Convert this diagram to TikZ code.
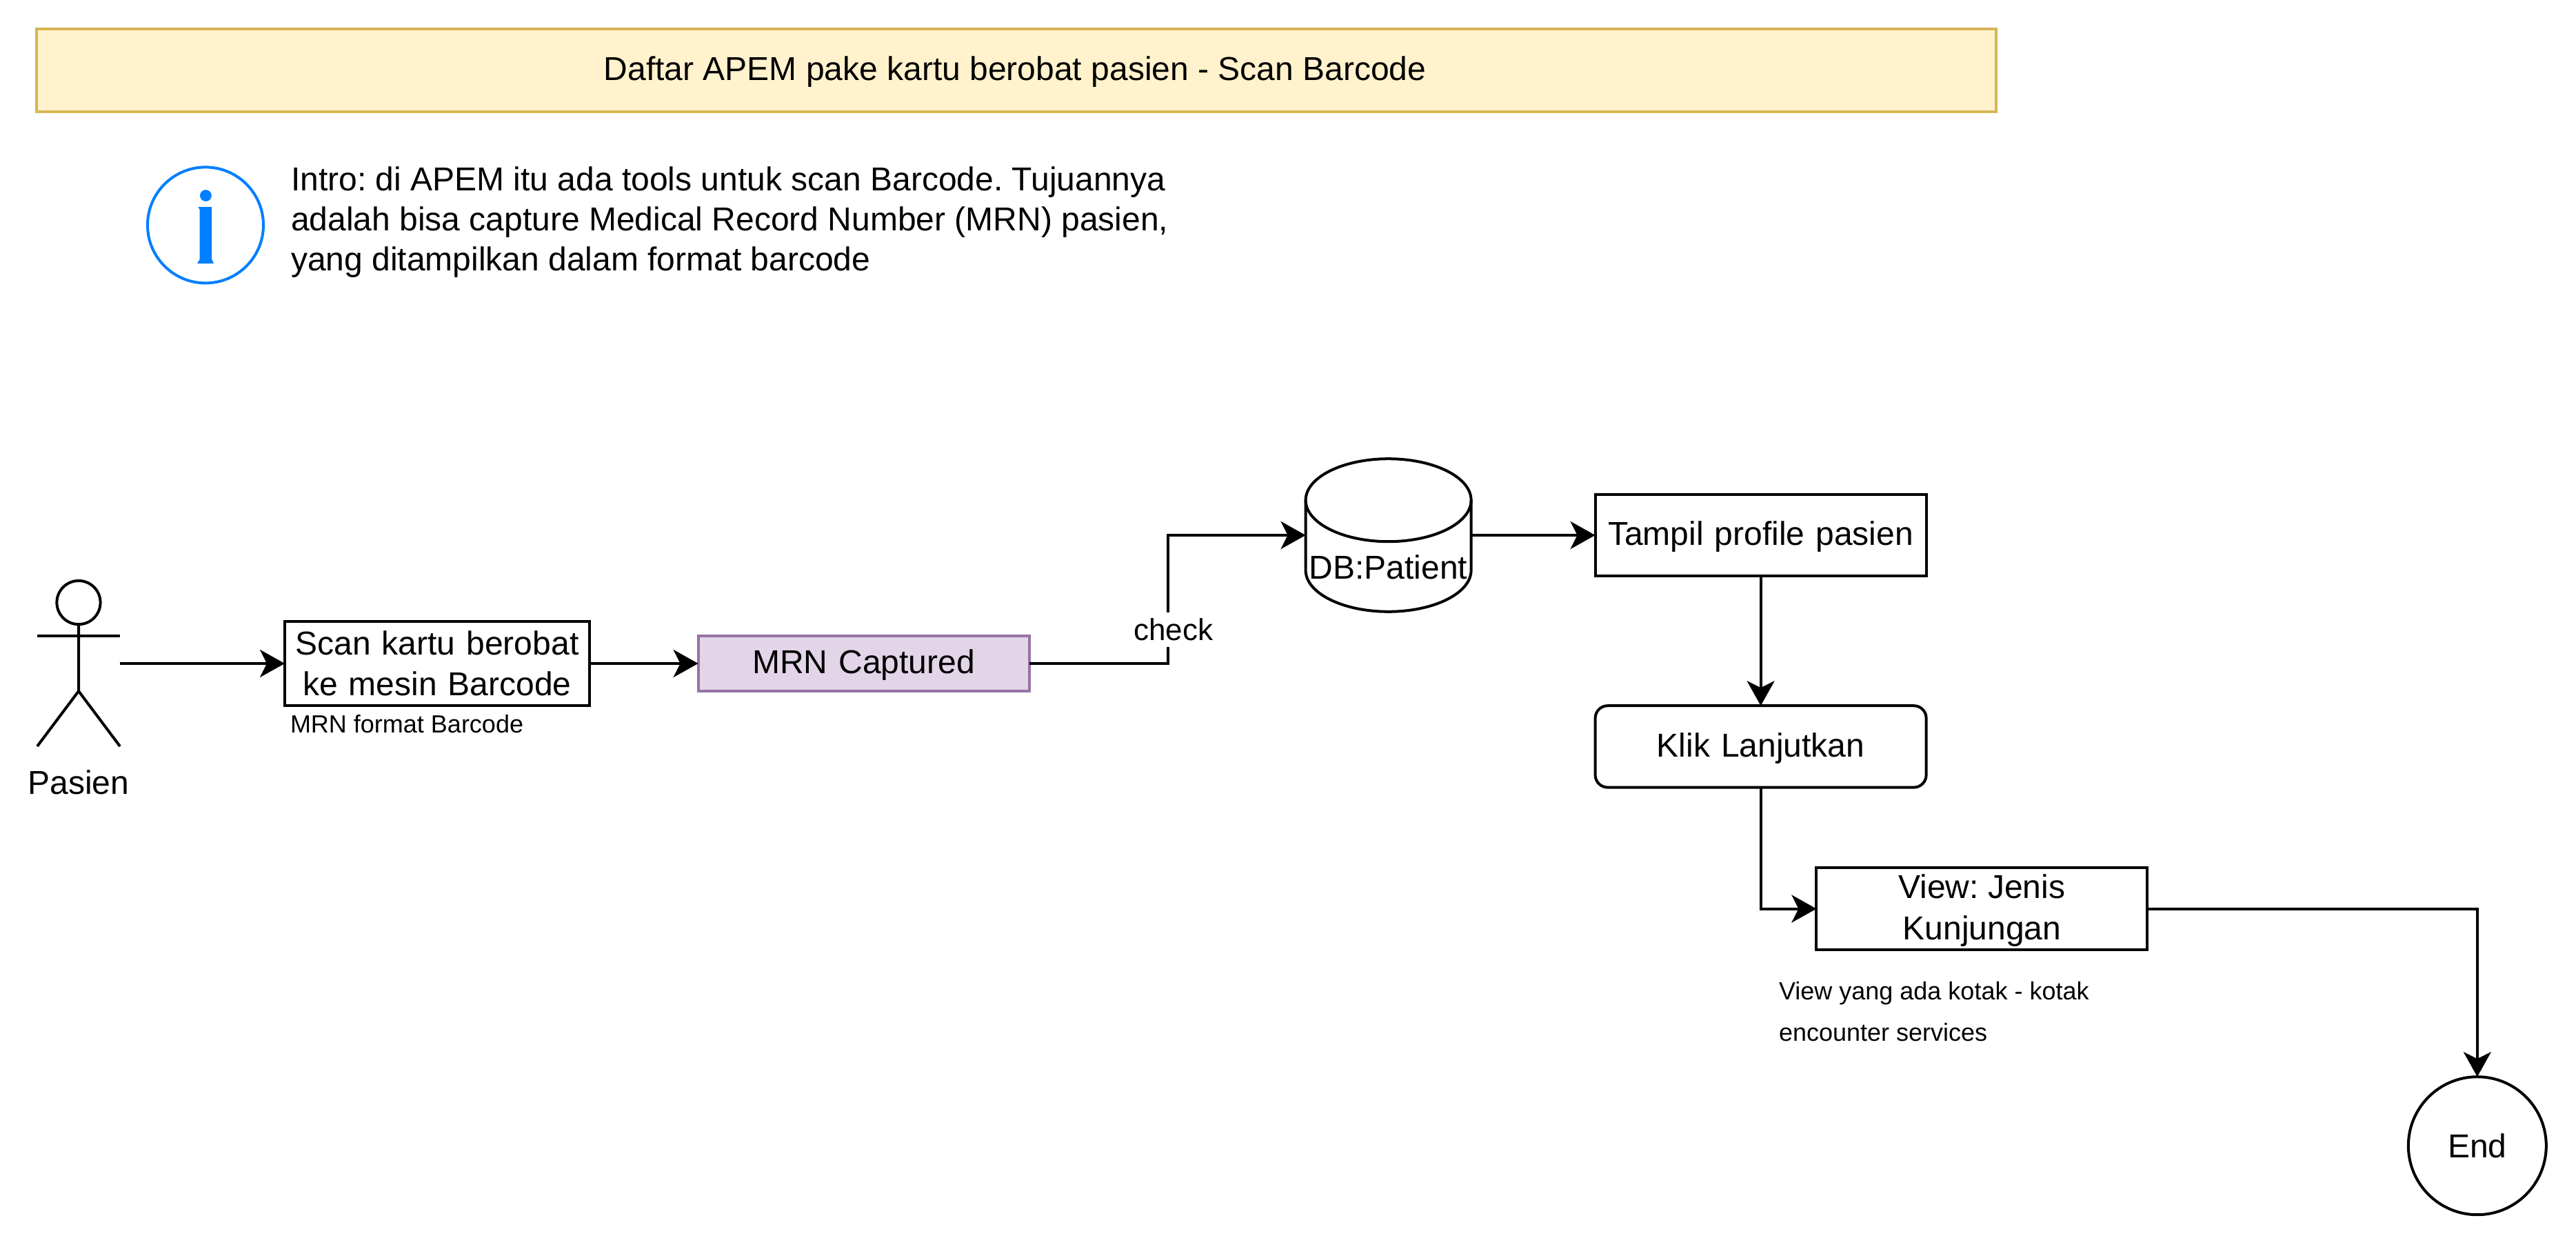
\documentclass[tikz,border=0pt]{standalone}
\usepackage{fontspec}
\setmainfont{Liberation Sans}
\usetikzlibrary{positioning,arrows.meta}
\definecolor{judulfill}{HTML}{FFF2CC}
\definecolor{juduldraw}{HTML}{D6B656}
\definecolor{mrnfill}{HTML}{E1D5E7}
\definecolor{mrndraw}{HTML}{9673A6}
\definecolor{infoblue}{HTML}{007FFF}
\tikzset{
	base/.style={inner sep=0pt, outer sep=0pt, line width=1pt, font=\fontsize{12}{15}\selectfont\frenchspacing, align=center},
	box/.style={base, draw, minimum width=120pt, minimum height=29.6pt, text width=116pt},
	satu/.style={text height=10pt, text depth=2.6pt},
	judulbox/.style={base, draw=juduldraw, fill=judulfill, minimum width=710.5pt, minimum height=30pt},
	mrnbox/.style={box, draw=mrndraw, fill=mrnfill, minimum height=20pt},
	catatan/.style={inner sep=0pt, outer sep=0pt, font=\fontsize{9}{15}\selectfont\frenchspacing, align=left},
	panah/.style={line width=1pt, -{Stealth[length=9pt, width=10pt, inset=2.5pt]}},
}
\begin{document}
\begin{tikzpicture}[x=1pt, y=1pt]
		\useasboundingbox (0,0) rectangle (934,-452);
		\node [judulbox] (judul) at (368.5,-25.5) {};
		\node [base, yshift=-.4pt, xshift=-.5pt] (judultext) at (judul) {Daftar APEM pake kartu berobat pasien - Scan Barcode};
		\node [base, draw=infoblue, circle, minimum size=42pt] (info) at (74.5,-81.6) {};
		\fill [infoblue] (74.6,-70.9) ellipse [x radius=2.1pt, y radius=2.1pt];
		\fill [infoblue] (71.9,-75) -- (76.8,-75) -- (76.8,-94) -- (77.5,-95.5) -- (71.5,-95.5) -- (72.4,-94) -- (72.4,-76) -- cycle;
		\node [base, right=10pt of info, yshift=1.2pt, align=left, font=\fontsize{12}{14.5}\selectfont\frenchspacing] (intro) {Intro: di APEM itu ada tools untuk scan Barcode. Tujuannya\\adalah bisa capture Medical Record Number (MRN) pasien,\\yang ditampilkan dalam format barcode};
		\node [inner sep=0pt, outer sep=0pt, minimum width=30pt, minimum height=60pt] (pasien) at (28.5,-240.5) {};
		\draw [line width=1pt] ([yshift=-7.9pt]pasien.north) circle [radius=7.9pt];
		\draw [line width=1pt] ([yshift=-15.8pt]pasien.north) -- ([yshift=20pt]pasien.south) -- (pasien.south west);
		\draw [line width=1pt] ([yshift=20pt]pasien.south) -- (pasien.south east);
		\draw [line width=1pt] ([yshift=-20pt]pasien.north west) -- ([yshift=-20pt]pasien.north east);
		\node [base, below=8.7pt of pasien] (pasientext) {Pasien};
		\node [box, minimum width=110.5pt, minimum height=30.6pt, text width=110pt] (scan) at (158.5,-240.5) {Scan kartu berobat\\[-.2pt]ke mesin Barcode};
		\node [catatan, below right=3.3pt and 2pt of scan.south west] (scannote) {MRN format Barcode};
		\node [mrnbox, satu, right=39.4pt of scan] (mrn) {MRN Captured};
		\coordinate (belok) at (423.4,-220);
		\node [inner sep=0pt, outer sep=0pt, minimum width=60pt, minimum height=55.4pt] (db) at (503.4,-194) {};
		\draw [line width=1pt] ([yshift=-15pt]db.north west) arc [x radius=30pt, y radius=15pt, start angle=180, end angle=0] -- ([yshift=15pt]db.south east) arc [x radius=30pt, y radius=15pt, start angle=0, end angle=-180] -- cycle;
		\draw [line width=1pt] ([yshift=-15pt]db.north west) arc [x radius=30pt, y radius=15pt, start angle=180, end angle=360];
		\node [base, yshift=-11.7pt] (dbtext) at (db) {DB:Patient};
		\node [box, satu, right=45pt of db] (tampil) {Tampil profile pasien};
		\node [box, satu, rounded corners=4.5pt, below=47pt of tampil] (klik) {Klik Lanjutkan};
		\node [box, text width=100pt] (view) at (718.6,-329.4) {};
		\node [base, yshift=-.6pt] (viewtext) at (view) {View: Jenis\\Kunjungan};
		\node [catatan, anchor=north west] (viewnote) at (645,-355.8) {View yang ada kotak - kotak\\encounter services};
		\node [base, draw, circle, minimum size=50pt] (selesai) at (898.2,-415.3) {End};
		\draw [panah] (pasien.east) -- (scan.west);
		\draw [panah] (scan.east) -- (mrn.west);
		\draw [panah] (mrn.east) -- (belok |- mrn.east) -- node [pos=.263, base, fill=white, font=\fontsize{11}{13}\selectfont\frenchspacing, inner ysep=2.3pt, xshift=2pt] (check) {check} (belok |- db.west) -- (db.west);
		\draw [panah] (db.east) -- (tampil.west);
		\draw [panah] (tampil.south) -- (klik.north);
		\draw [panah] (klik.south) |- (view.west);
		\draw [panah] (view.east) -| (selesai.north);
	\end{tikzpicture}
\end{document}
